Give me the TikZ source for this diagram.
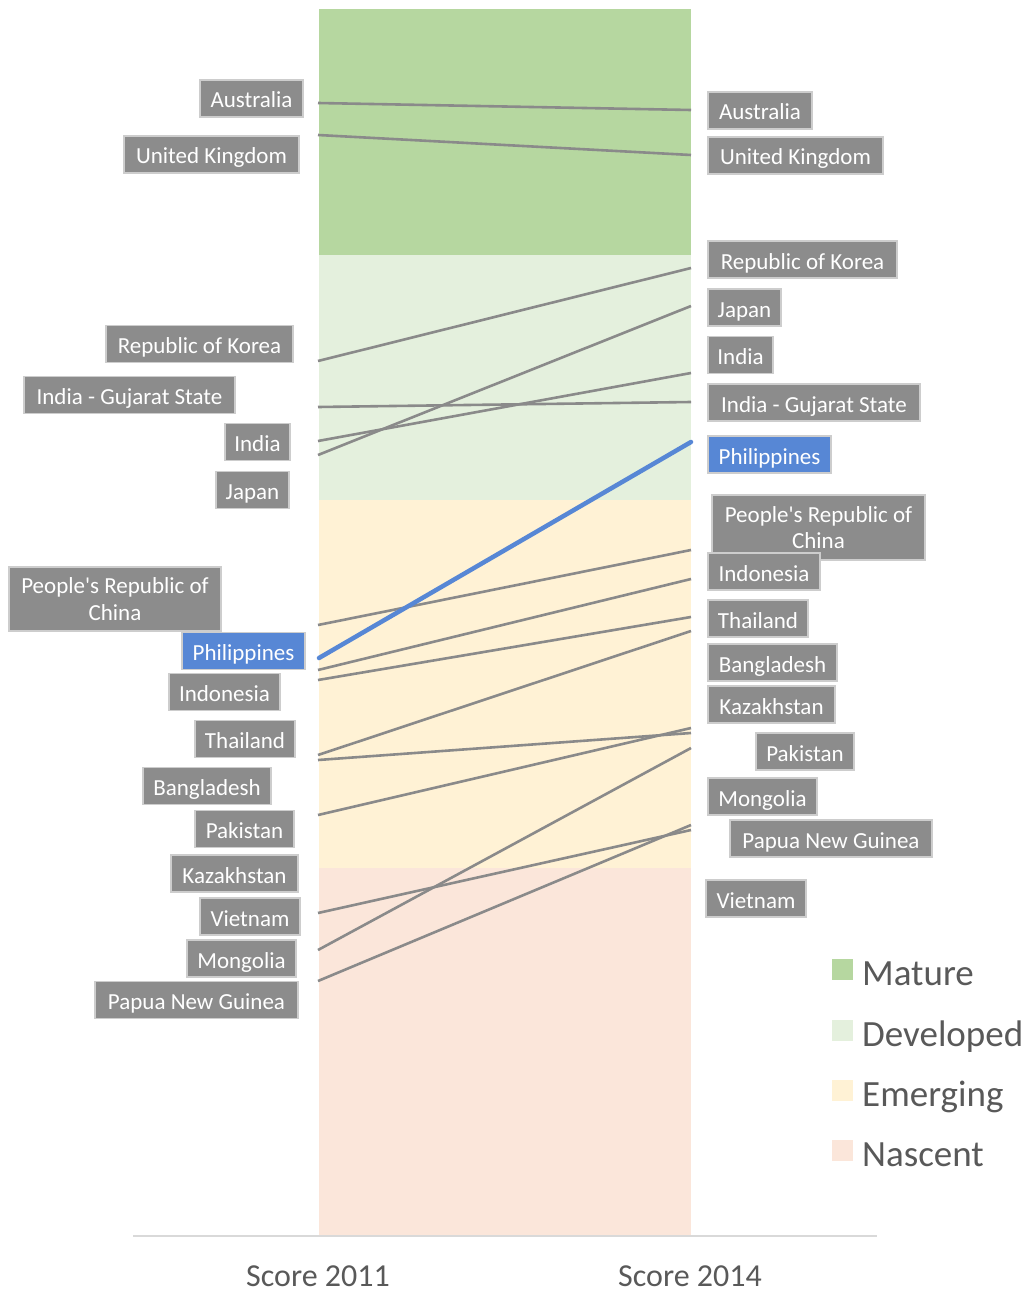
\documentclass[tikz,border=0pt]{standalone}
\usepackage{fontspec}
\setmainfont{Carlito}
\newfontfamily\lblfont{Carlito}
\definecolor{cMature}{HTML}{B6D7A0}
\definecolor{cDev}{HTML}{E4F0DD}
\definecolor{cEmerg}{HTML}{FFF2D5}
\definecolor{cNasc}{HTML}{FBE6DA}
\definecolor{lblfill}{HTML}{8C8C8C}
\definecolor{lblborder}{HTML}{CDCDCD}
\definecolor{linegray}{HTML}{8A8A8A}
\definecolor{hiblue}{HTML}{5787D5}
\definecolor{txtgray}{HTML}{595959}
\definecolor{axisgray}{HTML}{D9D9D9}
\tikzset{
  lblbase/.style={draw=lblborder, line width=1.5pt, fill=lblfill, text=white,
    font=\lblfont\fontsize{23}{26.5}\selectfont, inner sep=0pt, minimum height=37, align=center},
  lbl/.style={lblbase, text height=24, text depth=5},
  lbltwo/.style={lblbase},
  hilbl/.style={lbl, fill=hiblue},
  conn/.style={draw=linegray, line width=2.6pt},
  hiconn/.style={draw=hiblue, line width=4.5pt, line cap=round},
  legtxt/.style={text=txtgray, font=\fontsize{37}{40}\selectfont, anchor=base west, inner sep=0pt},
  axtxt/.style={text=txtgray, font=\fontsize{32}{34}\selectfont, anchor=base, inner sep=0pt},
  legsq/.style={draw=none, minimum width=21, minimum height=21, inner sep=0pt}
}
\begin{document}
\begin{tikzpicture}[x=1pt,y=-1pt]
\useasboundingbox (0,0) rectangle (1028,1292);
% bands
\fill[cMature] (319,9) rectangle (691,255);
\fill[cDev] (319,255) rectangle (691,500);
\fill[cEmerg] (319,500) rectangle (691,868);
\fill[cNasc] (319,868) rectangle (691,1235);
% axis
\coordinate (axL) at (133,1236);
\coordinate (axR) at (877,1236);
\draw[axisgray, line width=1.5pt] (axL) -- (axR);
\node[axtxt] (ax2011) at (318,1286) {Score 2011};
\node[axtxt] (ax2014) at (690,1286) {Score 2014};
% endpoints
\coordinate (La1) at (318,103);  \coordinate (Ra1) at (691,110);
\coordinate (Lb1) at (318,135);  \coordinate (Rb1) at (691,155);
\coordinate (Lkor) at (318,361); \coordinate (Rkor) at (691,268);
\coordinate (Lguj) at (318,407); \coordinate (Rguj) at (691,402);
\coordinate (Lind) at (318,441); \coordinate (Rind) at (691,373);
\coordinate (Ljap) at (318,455); \coordinate (Rjap) at (691,306);
\coordinate (Lchn) at (318,625); \coordinate (Rchn) at (691,550);
\coordinate (Lphl) at (319,658); \coordinate (Rphl) at (691,442);
\coordinate (Lidn) at (318,670); \coordinate (Ridn) at (691,579);
\coordinate (Ltha) at (318,680); \coordinate (Rtha) at (691,617);
\coordinate (Lbgd) at (318,755); \coordinate (Rbgd) at (691,631);
\coordinate (Lkaz) at (318,760); \coordinate (Rkaz) at (691,733);
\coordinate (Lpak) at (318,815); \coordinate (Rpak) at (691,728);
\coordinate (Lvnm) at (318,913); \coordinate (Rvnm) at (691,830);
\coordinate (Lmng) at (318,950); \coordinate (Rmng) at (691,748);
\coordinate (Lpng) at (318,981); \coordinate (Rpng) at (691,825);
% connectors
\draw[conn] (La1) -- (Ra1);
\draw[conn] (Lb1) -- (Rb1);
\draw[conn] (Lkor) -- (Rkor);
\draw[conn] (Lguj) -- (Rguj);
\draw[conn] (Lind) -- (Rind);
\draw[conn] (Ljap) -- (Rjap);
\draw[conn] (Lchn) -- (Rchn);
\draw[conn] (Lidn) -- (Ridn);
\draw[conn] (Ltha) -- (Rtha);
\draw[conn] (Lbgd) -- (Rbgd);
\draw[conn] (Lkaz) -- (Rkaz);
\draw[conn] (Lpak) -- (Rpak);
\draw[conn] (Lvnm) -- (Rvnm);
\draw[conn] (Lmng) -- (Rmng);
\draw[conn] (Lpng) -- (Rpng);
\draw[hiconn] (Lphl) -- (Rphl);
% left labels
\node[lbl, minimum width=103] (tAusL) at (251.5,98.5) {Australia};
\node[lbl, minimum width=175] (tUKL) at (211.5,154.5) {United Kingdom};
\node[lbl, minimum width=187] (tKorL) at (199.5,344) {Republic of Korea};
\node[lbl, minimum width=211] (tGujL) at (129.5,395) {India - Gujarat State};
\node[lbl, minimum width=65] (tIndL) at (257.5,442) {India};
\node[lbl, minimum width=73] (tJapL) at (252.5,490) {Japan};
\node[lbltwo, minimum width=212, minimum height=64] (tChnL) at (115,599) {People's Republic of\\China};
\node[hilbl, minimum width=123] (tPhlL) at (243.5,651) {Philippines};
\node[lbl, minimum width=111] (tIdnL) at (224.5,692) {Indonesia};
\node[lbl, minimum width=100] (tThaL) at (245,739) {Thailand};
\node[lbl, minimum width=128] (tBgdL) at (207,786) {Bangladesh};
\node[lbl, minimum width=99] (tPakL) at (244.5,829) {Pakistan};
\node[lbl, minimum width=127] (tKazL) at (234.5,873.5) {Kazakhstan};
\node[lbl, minimum width=100] (tVnmL) at (250,916.5) {Vietnam};
\node[lbl, minimum width=109] (tMngL) at (241.5,958.5) {Mongolia};
\node[lbl, minimum width=203] (tPngL) at (196.5,1000) {Papua New Guinea};
% right labels
\node[lbl, minimum width=104] (tAusR) at (760,110.5) {Australia};
\node[lbl, minimum width=175] (tUKR) at (795.5,155.5) {United Kingdom};
\node[lbl, minimum width=189] (tKorR) at (802.5,259.5) {Republic of Korea};
\node[lbl, minimum width=73] (tJapR) at (744.5,307.5) {Japan};
\node[lbl, minimum width=65] (tIndR) at (740.5,355) {India};
\node[lbl, minimum width=212] (tGujR) at (814,402.5) {India - Gujarat State};
\node[hilbl, minimum width=123] (tPhlR) at (769.5,454.5) {Philippines};
\node[lbltwo, minimum width=213, minimum height=65] (tChnR) at (818.5,527.5) {People's Republic of\\China};
\node[lbl, minimum width=112] (tIdnR) at (764,571.5) {Indonesia};
\node[lbl, minimum width=100] (tThaR) at (758,618.5) {Thailand};
\node[lbl, minimum width=129] (tBgdR) at (772.5,662.5) {Bangladesh};
\node[lbl, minimum width=127] (tKazR) at (771.5,704.5) {Kazakhstan};
\node[lbl, minimum width=98] (tPakR) at (805,751.5) {Pakistan};
\node[lbl, minimum width=109] (tMngR) at (762.5,796.5) {Mongolia};
\node[lbl, minimum width=202] (tPngR) at (831,838.5) {Papua New Guinea};
\node[lbl, minimum width=100] (tVnmR) at (756,898.5) {Vietnam};
% legend
\node[legsq, fill=cMature] (sqM) at (842.5,969.5) {};
\node[legsq, fill=cDev] (sqD) at (842.5,1030.5) {};
\node[legsq, fill=cEmerg] (sqE) at (842.5,1090.5) {};
\node[legsq, fill=cNasc] (sqN) at (842.5,1150.5) {};
\node[legtxt] (lgM) at (862,985) {Mature};
\node[legtxt] (lgD) at (862,1046) {Developed};
\node[legtxt] (lgE) at (862,1106) {Emerging};
\node[legtxt] (lgN) at (862,1166) {Nascent};
\end{tikzpicture}
\end{document}
